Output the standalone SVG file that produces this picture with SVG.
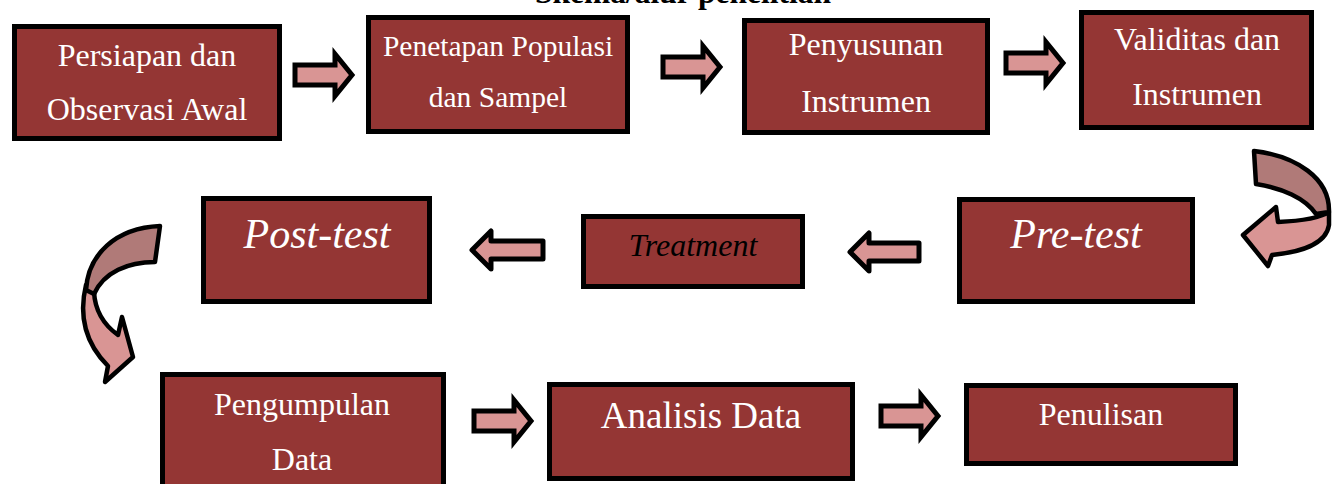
<svg xmlns="http://www.w3.org/2000/svg" width="1338" height="484" viewBox="0 0 1338 484">
<style>
.box{fill:#943634;stroke:#000;stroke-width:5;}
.t{font-family:"Liberation Serif","Times New Roman",serif;fill:#fff;text-anchor:middle;}
.ti{font-family:"Liberation Serif","Times New Roman",serif;font-style:italic;text-anchor:middle;}
.ra{fill:#D99594;stroke:#000;stroke-width:5;stroke-linejoin:miter;}
.la{fill:#D99594;stroke:#000;stroke-width:5;stroke-linejoin:round;}
.cd{fill:#B07A78;stroke:#000;stroke-width:4.5;stroke-linejoin:round;}
.cl{fill:#D99594;stroke:#000;stroke-width:4.5;stroke-linejoin:round;}
</style>
<defs>
<path id="rarrow" d="M0,-10 L40,-10 L40,-21 L57,0 L40,21 L40,10 L0,10 Z"/>
</defs>
<rect width="1338" height="484" fill="#fff"/>
<text x="683" y="3" font-family="Liberation Serif, serif" font-weight="bold" font-size="31.5" text-anchor="middle">Skema/alur penelitian</text>

<g id="connectors">
<use href="#rarrow" class="ra" transform="translate(295,75)"/>
<use href="#rarrow" class="ra" transform="translate(663,67)"/>
<use href="#rarrow" class="ra" transform="translate(1006,63)"/>
<path class="cl" d="M1278,222 L1276,207 L1243,235 L1268,266 L1272,255 C1300,252 1326,245 1329,225 L1329,212 C1320,218 1300,221 1278,222 Z"/>
<path class="cd" d="M1254,151 C1296,156 1330,178 1329,212 L1316,214 C1305,198 1282,188 1256,184 Z"/>
<path class="la" d="M472,250 L491,231 L491,241 L543,241 L543,259 L491,259 L491,269 Z"/>
<path class="la" d="M850,252 L869,233 L869,243 L919,243 L919,261 L869,261 L869,271 Z"/>
<path class="cl" d="M86,285 C80,310 82,340 108,366 L105,382 L133,357 L122,317 L118,335 C104,325 95,310 94,292 Z"/>
<path class="cd" d="M160,226 L155,262 C128,262 104,272 94,294 L86,290 C88,255 115,228 160,226 Z"/>
<use href="#rarrow" class="ra" transform="translate(474,421)"/>
<use href="#rarrow" class="ra" transform="translate(881,416)"/>
</g>

<g id="node-persiapan">
<rect class="box" x="14.5" y="26.5" width="265" height="112"/>
<text class="t" x="147" y="66" font-size="32">Persiapan dan</text>
<text class="t" x="147" y="120" font-size="32">Observasi Awal</text>
</g>
<g id="node-penetapan">
<rect class="box" x="368.5" y="17.5" width="259" height="114"/>
<text class="t" x="498" y="56" font-size="29.5">Penetapan Populasi</text>
<text class="t" x="498" y="107" font-size="29.5">dan Sampel</text>
</g>
<g id="node-penyusunan">
<rect class="box" x="744.5" y="20.5" width="243" height="112"/>
<text class="t" x="866" y="55" font-size="32">Penyusunan</text>
<text class="t" x="866" y="112" font-size="32">Instrumen</text>
</g>
<g id="node-validitas">
<rect class="box" x="1081.5" y="12.5" width="230" height="115"/>
<text class="t" x="1197" y="50" font-size="32">Validitas dan</text>
<text class="t" x="1197" y="105" font-size="32">Instrumen</text>
</g>
<g id="node-posttest">
<rect class="box" x="203.5" y="198.5" width="226" height="103"/>
<text class="ti" x="317" y="248" font-size="42" fill="#fff">Post-test</text>
</g>
<g id="node-treatment">
<rect class="box" x="583.5" y="216.5" width="219" height="70"/>
<text class="ti" x="693" y="256" font-size="32" fill="#000">Treatment</text>
</g>
<g id="node-pretest">
<rect class="box" x="959.5" y="199.5" width="233" height="102"/>
<text class="ti" x="1076" y="248" font-size="42" fill="#fff">Pre-test</text>
</g>
<g id="node-pengumpulan">
<rect class="box" x="162.5" y="374.5" width="281" height="120"/>
<text class="t" x="302" y="415" font-size="32">Pengumpulan</text>
<text class="t" x="302" y="470" font-size="32">Data</text>
</g>
<g id="node-analisis">
<rect class="box" x="549.5" y="384.5" width="303" height="94"/>
<text class="t" x="701" y="428" font-size="37">Analisis Data</text>
</g>
<g id="node-penulisan">
<rect class="box" x="966.5" y="385.5" width="269" height="78"/>
<text class="t" x="1101" y="425" font-size="32">Penulisan</text>
</g>
</svg>
